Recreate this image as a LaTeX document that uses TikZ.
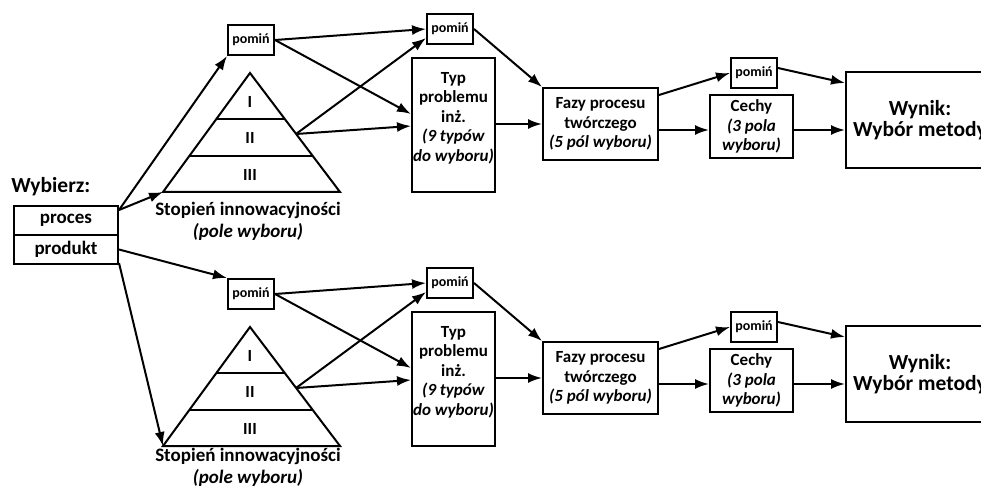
\documentclass[tikz,border=0pt]{standalone}
\usepackage{fontspec}
\setmainfont{Carlito}
\usetikzlibrary{arrows.meta,calc}
\begin{document}
\begin{tikzpicture}[x=1pt,y=-1pt,
  line width=2pt,
  box/.style={draw,rectangle,inner sep=0pt,line width=2pt},
  arr/.style={-{Latex[length=14pt,width=10pt]},line width=2pt},
  big/.style={font=\bfseries\fontsize{21.5}{21}\selectfont},
  mid/.style={font=\bfseries\fontsize{19}{21}\selectfont},
  txt/.style={font=\bfseries\fontsize{17}{19.5}\selectfont},
  small/.style={font=\bfseries\fontsize{14}{15}\selectfont},
  pombox/.style={box,small,minimum width=46pt,minimum height=30pt}]
\useasboundingbox (0,0) rectangle (981,486);
\clip (0,0) rectangle (981,486);

% selection box on the left
\node[big,anchor=base west] (wyb) at (7,193) {Wybierz:};
\node[box,mid,minimum width=104pt,minimum height=29pt] (proc) at (66,220.5) {proces};
\node[box,mid,minimum width=104pt,minimum height=29pt] (prod) at (66,249.5) {produkt};

% two identical selection paths
\foreach \s/\dy/\ly in {a/0/0,b/254/-8}{
  \begin{scope}[yshift=-\dy pt]
    \node[pombox] (\s-pom1) at (251,40) {pomiń};
    % pyramid of innovation levels
    \draw (250,73) -- (340,192) -- (163,192) -- cycle;
    \draw (216.4,119) -- (284.8,119);
    \draw (189.3,156) -- (312.8,156);
    \coordinate (\s-tl) at (163,192);
    \coordinate (\s-tII) at (296,134);
    \node[txt] (\s-l1) at (250,102) {I};
    \node[txt] (\s-l2) at (250,138) {II};
    \node[txt] (\s-l3) at (250,175) {III};
    \node[mid] (\s-st) at (248,{210+\ly}) {Stopień innowacyjności};
    \node[mid] (\s-pw) at (248,{232+\ly}) {\textit{(pole wyboru)}};
    \node[pombox] (\s-pom2) at (450,29) {pomiń};
    \node[box,minimum width=83pt,minimum height=134pt] (\s-typ) at (453.5,125) {};
    \node[txt,align=center] (\s-typt) at (453.5,118)
      {Typ\\problemu\\inż.\\\textit{(9 typów}\\\textit{do wyboru)}};
    \node[box,txt,align=center,minimum width=115pt,minimum height=72pt] (\s-faz) at (600.5,124)
      {Fazy procesu\\twórczego\\\textit{(5 pól wyboru)}};
    \node[pombox] (\s-pom3) at (754,73) {pomiń};
    \node[box,txt,align=center,minimum width=83pt,minimum height=63pt] (\s-cech) at (751.5,126.5)
      {Cechy\\\textit{(3 pola}\\\textit{wyboru)}};
    \node[box,big,align=center,minimum width=148pt,minimum height=96pt] (\s-wyn) at (920,120)
      {Wynik:\\Wybór metody};
  \end{scope}
  \draw[arr] (\s-pom1.east) -- (\s-pom2.west);
  \draw[arr] (\s-pom1.east) -- ($(\s-typ.north west)+(0,57)$);
  \draw[arr] (\s-tII) -- ($(\s-pom2.south west)+(0,-7)$);
  \draw[arr] (\s-tII) -- ($(\s-typ.north west)+(0,69)$);
  \draw[arr] (\s-pom2.east) -- (\s-faz.north west);
  \draw[arr] (\s-typ.east |- \s-faz.west) -- (\s-faz.west);
  \draw[arr] ($(\s-faz.north east)+(0,8)$) -- (\s-pom3.west);
  \draw[arr] ($(\s-faz.east)+(0,6)$) coordinate (f1) -- (\s-cech.west |- f1);
  \draw[arr] ($(\s-pom3.east)+(0,-5)$) -- ($(\s-wyn.north west)+(0,12)$);
  \draw[arr] ($(\s-cech.east)+(0,3.5)$) coordinate (c1) -- (\s-wyn.west |- c1);
}

% connectors from the selection box
\draw[arr] ($(proc.north east)+(0,5)$) -- (a-pom1.south west);
\draw[arr] ($(proc.north east)+(0,5)$) -- (a-tl);
\draw[arr] (prod.east) -- (b-pom1.north west);
\draw[arr] ($(prod.south east)+(0,-2)$) -- (b-tl);
\end{tikzpicture}
\end{document}
